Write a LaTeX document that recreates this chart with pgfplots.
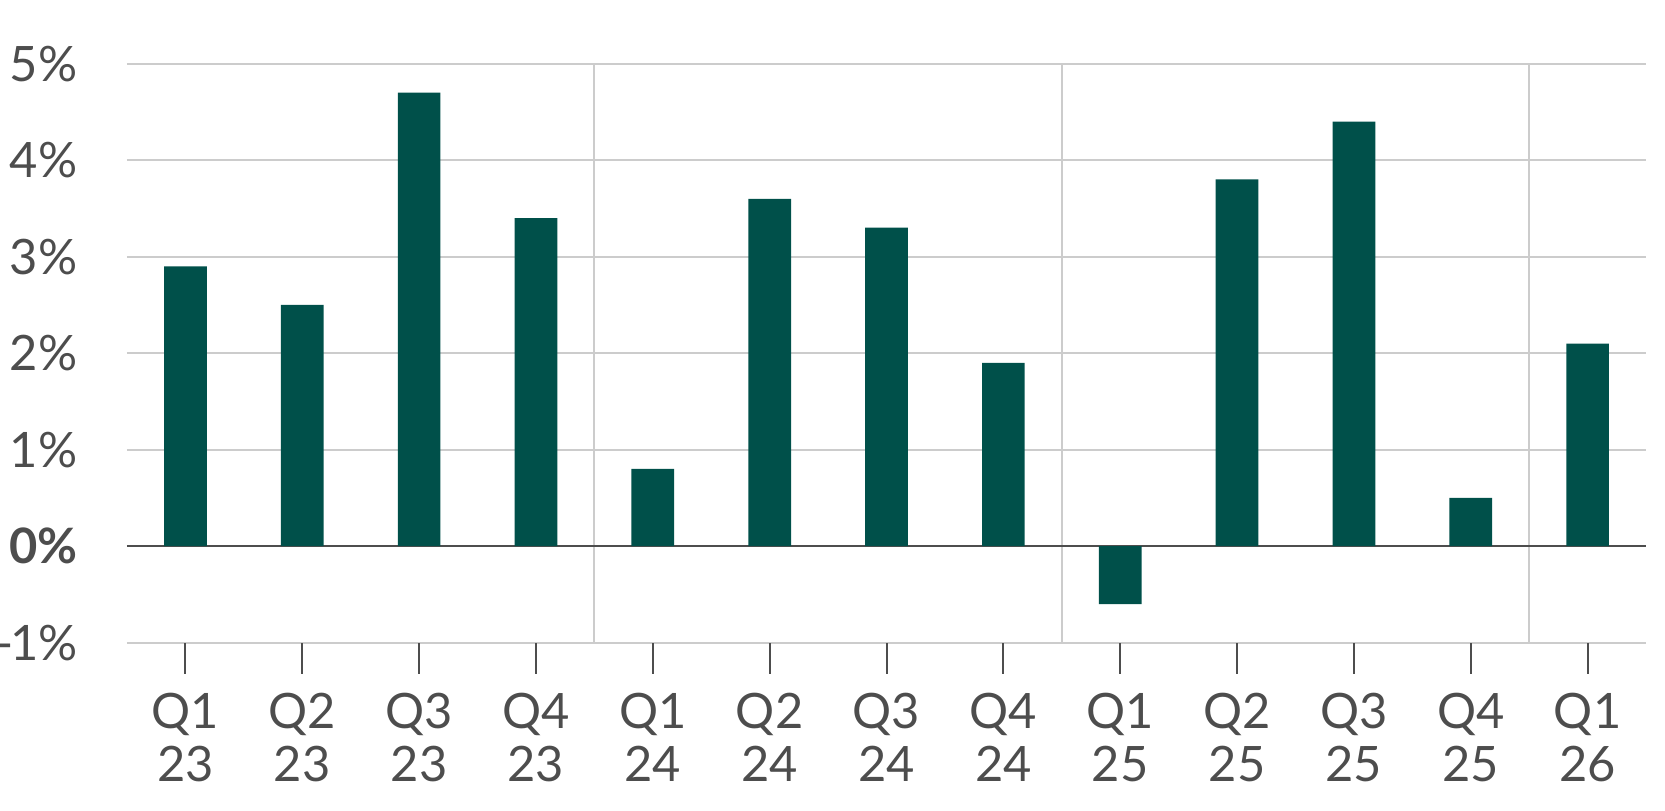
\documentclass[border=0pt]{standalone}
\usepackage{fontspec}
\setmainfont{Lato}
\usepackage{pgfplots}
\pgfplotsset{compat=1.18}
\definecolor{bar}{HTML}{00504A}
\definecolor{txt}{HTML}{4D4D4D}
\definecolor{grd}{HTML}{CCCCCC}
\begin{document}
\begin{tikzpicture}
\useasboundingbox (-31.75pt,-42.1pt) rectangle (384.5pt,160.65pt);
\begin{axis}[
  at={(0,0)}, anchor=south west,
  scale only axis,
  width=379.75pt, height=144.725pt,
  xmin=-0.5, xmax=12.5,
  ymin=-1, ymax=5,
  axis line style={draw=none},
  xtick={0,...,12},
  xticklabels={{Q1\\23},{Q2\\23},{Q3\\23},{Q4\\23},{Q1\\24},{Q2\\24},{Q3\\24},{Q4\\24},{Q1\\25},{Q2\\25},{Q3\\25},{Q4\\25},{Q1\\26}},
  xtick pos=bottom,
  xtick align=outside,
  major tick length=7.75pt,
  xtick style={draw=txt, line width=0.5pt},
  xticklabel style={align=center, text=txt, font=\fontsize{12.2}{13.25}\selectfont, inner sep=0pt, yshift=-4.6pt},
  ytick={-1,1,2,3,4,5},
  yticklabels={-\kern-0.8pt1\%,1\%,2\%,3\%,4\%,5\%},
  ytick style={draw=none},
  yticklabel style={text=txt, font=\fontsize{12.2}{14}\selectfont, inner sep=0pt, anchor=east, xshift=-12.2pt},
  ymajorgrids,
  grid style={grd, line width=0.5pt},
  extra y ticks={0},
  extra y tick labels={\textbf{0\%}},
  extra y tick style={grid style={color=txt, line width=0.55pt}, yticklabel style={text=txt}},
  extra x ticks={3.5,7.5,11.5},
  extra x tick labels={},
  extra x tick style={xmajorgrids, major tick length=0pt, grid style={grd, line width=0.5pt}, tick style={draw=none}},
  clip=false,
]
\addplot[ybar, bar width=10.67pt, fill=bar, draw=none] coordinates {
  (0,2.9) (1,2.5) (2,4.7) (3,3.4) (4,0.8) (5,3.6) (6,3.3) (7,1.9) (8,-0.6) (9,3.8) (10,4.4) (11,0.5) (12,2.1)
};
\end{axis}
\end{tikzpicture}
\end{document}
